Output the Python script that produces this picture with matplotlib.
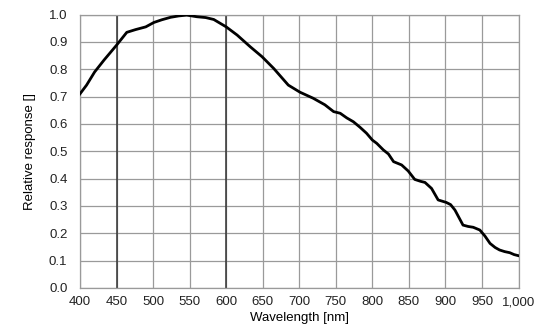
import matplotlib
matplotlib.use('Agg')
import matplotlib.pyplot as plt
from matplotlib.ticker import FuncFormatter

plt.rcParams['font.family'] = ['Liberation Sans', 'DejaVu Sans']

# curve
wavelength = [400, 409, 420, 433, 450, 464, 476, 490, 501, 512, 524, 535, 546, 560,
              572, 583, 600, 615, 633, 649, 665, 685, 701, 719, 735, 747, 756, 765,
              774, 783, 792, 800, 806, 815, 822, 829, 840, 849, 858, 866, 872, 881,
              890, 901, 907, 913, 919, 924, 931, 938, 947, 954, 961, 968, 974, 981,
              988, 994, 1000]
response = [0.71, 0.742, 0.79, 0.834, 0.888, 0.935, 0.945, 0.955, 0.971, 0.981,
            0.99, 0.995, 0.998, 0.992, 0.989, 0.982, 0.955, 0.925, 0.882, 0.846,
            0.803, 0.742, 0.716, 0.694, 0.67, 0.645, 0.639, 0.622, 0.608, 0.588,
            0.566, 0.541, 0.529, 0.505, 0.49, 0.462, 0.45, 0.428, 0.397, 0.39,
            0.386, 0.364, 0.322, 0.313, 0.305, 0.285, 0.255, 0.23, 0.225, 0.222,
            0.212, 0.19, 0.163, 0.148, 0.139, 0.133, 0.129, 0.122, 0.118]

x_ticks = list(range(400, 1001, 50))
y_ticks = [i / 10 for i in range(11)]
marker_lines = [450, 600]

fig = plt.figure(figsize=(5.54, 3.31), dpi=100)
ax = fig.add_axes([0.1444, 0.13, 0.7916, 0.826])

grid_col = '#9a9a9a'
for x in x_ticks:
    ax.axvline(x, color=grid_col, lw=0.9, zorder=1)
for y in y_ticks:
    ax.axhline(y, color=grid_col, lw=0.9, zorder=1)
for x in marker_lines:
    ax.axvline(x, color='#333333', lw=1.1, zorder=2)

ax.plot(wavelength, response, color='black', lw=2.0, zorder=3)

ax.set_xlim(400, 1000)
ax.set_ylim(0, 1.0)
ax.set_xticks(x_ticks)
ax.set_yticks(y_ticks)
ax.xaxis.set_major_formatter(FuncFormatter(lambda v, p: f'{int(v):,}'))
ax.yaxis.set_major_formatter(FuncFormatter(lambda v, p: f'{v:.1f}'))
ax.tick_params(length=0, labelsize=9.5, colors='#222222')
ax.tick_params(axis='y', pad=9)
ax.tick_params(axis='x', pad=6)
for s in ax.spines.values():
    s.set_color(grid_col)
    s.set_linewidth(0.9)

ax.set_xlabel('Wavelength [nm]', fontsize=9.5, labelpad=3)
ax.set_ylabel('Relative response []', fontsize=9.5, labelpad=9)

fig.savefig('out.png', dpi=100)
